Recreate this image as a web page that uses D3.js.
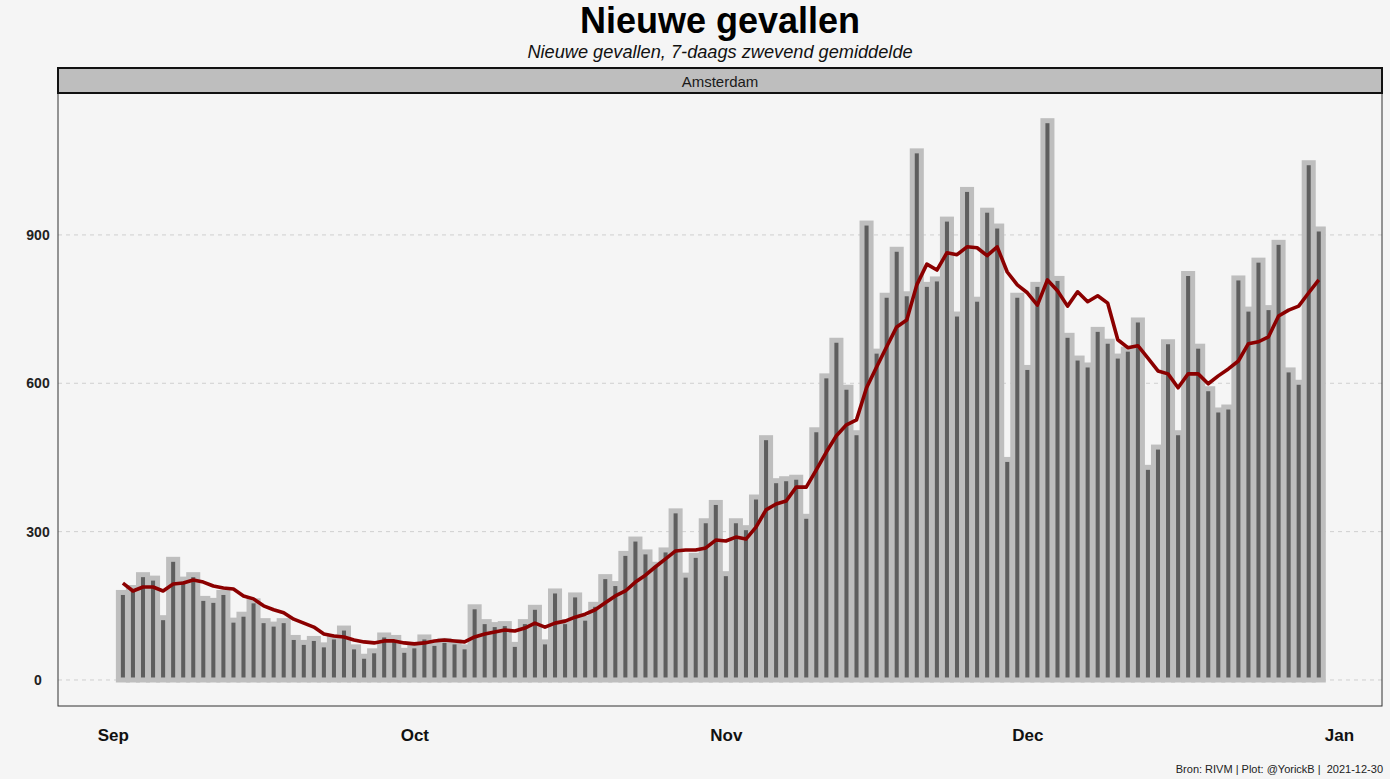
<!DOCTYPE html>
<html>
<head>
<meta charset="utf-8">
<script src="https://cdn.jsdelivr.net/npm/d3@7"></script>
<style>
  html, body { margin: 0; padding: 0; background: #f5f5f5; }
  svg { display: block; }
  text { font-family: "Liberation Sans", Arial, Helvetica, sans-serif; }
</style>
</head>
<body>
<svg id="chart" width="1390" height="779"></svg>
<script>
// ---- data ----
const startDate = "2021-09-02";
const cases = [
  177, 187, 213, 206, 126, 244, 204, 213, 165, 161, 177,
  121, 133, 160, 120, 113, 120, 86, 76, 84, 71, 87, 105,
  67, 48, 59, 91, 86, 60, 69, 87, 74, 80, 77, 67,
  148, 118, 112, 114, 72, 118, 147, 77, 180, 118, 172, 125,
  153, 209, 195, 256, 285, 259, 234, 263, 342, 212, 252, 322,
  359, 215, 322, 308, 370, 490, 403, 407, 410, 331, 506, 615,
  687, 592, 500, 924, 665, 778, 871, 781, 1070, 800, 811, 932, 740, 992, 770, 950, 918, 446, 778,
  632, 800, 1131, 812, 697, 651, 637, 709, 685, 655, 669, 728, 430, 471, 684, 500, 822, 675, 589, 546, 552, 813, 750, 849, 753, 885, 627, 602, 1046, 912
];
const avg7 = [
  196, 180, 188, 188, 180, 194, 196, 202, 198, 190, 186,
  184, 170, 164, 150, 142, 136, 123, 115, 107, 93, 89, 87,
  81, 77, 75, 79, 79, 75, 73, 75, 79, 81, 79, 77,
  87, 93, 97, 101, 99, 105, 115, 107, 115, 119, 127, 133,
  142, 156, 170, 180, 198, 212, 229, 245, 261, 263, 263, 267,
  283, 281, 289, 285, 309, 344, 356, 362, 390, 390, 425, 461,
  494, 516, 526, 591, 633, 674, 714, 728, 799, 841, 829, 864, 860, 876, 874, 858, 876, 825, 799,
  783, 758, 809, 787, 756, 785, 765, 777, 762, 688, 672, 676, 651, 625, 619, 591, 619, 619, 599, 615, 629, 645, 680, 684, 694, 736, 748, 756, 783, 809
];
const yTicks = [0, 300, 600, 900];
const xTickLabels = ["Sep", "Oct", "Nov", "Dec", "Jan"];
const xTickDates = ["2021-09-01", "2021-10-01", "2021-11-01", "2021-12-01", "2022-01-01"];
const title = "Nieuwe gevallen";
const subtitle = "Nieuwe gevallen, 7-daags zwevend gemiddelde";
const stripLabel = "Amsterdam";
const caption = "Bron: RIVM | Plot: @YorickB |  2021-12-30";

// ---- layout ----
const W = 1390, H = 779;
const panel = { left: 58, right: 1382, top: 93, bottom: 706 };
const strip = { top: 68, bottom: 93 };

const parse = d3.utcParse("%Y-%m-%d");
const d0 = parse(startDate);
const data = cases.map((v, i) => ({ date: d3.utcDay.offset(d0, i), value: v, avg: avg7[i] }));

const sep1 = parse("2021-09-01");
const x = d3.scaleUtc()
  .domain([d3.utcHour.offset(sep1, -5.42 * 24), d3.utcHour.offset(sep1, 126.3 * 24)])
  .range([panel.left, panel.right]);
const y = d3.scaleLinear()
  .domain([-52.6, 1187])
  .range([panel.bottom, panel.top]);

const svg = d3.select("#chart");
svg.append("rect").attr("width", W).attr("height", H).attr("fill", "#f5f5f5");

// panel background
svg.append("rect")
  .attr("x", panel.left).attr("y", panel.top)
  .attr("width", panel.right - panel.left).attr("height", panel.bottom - panel.top)
  .attr("fill", "#f5f5f5");

// gridlines
svg.append("g").selectAll("line").data(yTicks).join("line")
  .attr("x1", panel.left).attr("x2", panel.right)
  .attr("y1", d => y(d)).attr("y2", d => y(d))
  .attr("stroke", "#cfcfcf").attr("stroke-width", 1)
  .attr("stroke-dasharray", "4,4");

// bars
const dayPx = x(d3.utcDay.offset(sep1, 1)) - x(sep1);
const barW = dayPx * 0.9;
svg.append("g").selectAll("rect").data(data).join("rect")
  .attr("x", d => x(d.date) - barW / 2)
  .attr("y", d => y(d.value))
  .attr("width", barW)
  .attr("height", d => y(0) - y(d.value))
  .attr("fill", "#5e5e5e")
  .attr("stroke", "#bebebe")
  .attr("stroke-width", 5);

// 7-day average line
const line = d3.line().x(d => x(d.date)).y(d => y(d.avg));
svg.append("path").datum(data)
  .attr("d", line)
  .attr("fill", "none")
  .attr("stroke", "#8b0000")
  .attr("stroke-width", 3.6)
  .attr("stroke-linejoin", "round");

// panel border
svg.append("rect")
  .attr("x", panel.left).attr("y", panel.top)
  .attr("width", panel.right - panel.left).attr("height", panel.bottom - panel.top)
  .attr("fill", "none").attr("stroke", "#333").attr("stroke-width", 1);

// strip
svg.append("rect")
  .attr("x", panel.left).attr("y", strip.top)
  .attr("width", panel.right - panel.left).attr("height", strip.bottom - strip.top)
  .attr("fill", "#bebebe").attr("stroke", "#111").attr("stroke-width", 2);
svg.append("text")
  .attr("x", (panel.left + panel.right) / 2).attr("y", 87)
  .attr("text-anchor", "middle").attr("font-size", 15).attr("fill", "#1a1a1a")
  .text(stripLabel);

// y axis labels (centered, as in the reference)
const yAxis = d3.axisLeft(y).tickValues(yTicks).tickSize(0).tickPadding(0).tickFormat(d3.format("d"));
const gy = svg.append("g").attr("transform", `translate(38,0)`).call(yAxis);
gy.select(".domain").remove();
gy.selectAll("text").attr("font-size", 14).attr("font-weight", "bold").attr("fill", "#222")
  .attr("text-anchor", "middle")
  .attr("font-family", "Liberation Sans, Arial, sans-serif");

// x axis labels
const xAxis = d3.axisBottom(x).tickValues(xTickDates.map(parse)).tickSize(0).tickPadding(0)
  .tickFormat((d, i) => xTickLabels[i]);
const gx = svg.append("g").attr("transform", `translate(0,${panel.bottom + 23})`).call(xAxis);
gx.select(".domain").remove();
gx.selectAll("text").attr("font-size", 17).attr("font-weight", "bold").attr("fill", "#111")
  .attr("font-family", "Liberation Sans, Arial, sans-serif");

// titles
svg.append("text").attr("x", 720).attr("y", 33).attr("text-anchor", "middle")
  .attr("font-size", 36).attr("font-weight", "bold").attr("fill", "#000").text(title);
svg.append("text").attr("x", 720).attr("y", 58).attr("text-anchor", "middle")
  .attr("font-size", 18.2).attr("font-style", "italic").attr("fill", "#111").text(subtitle);

// caption
svg.append("text").attr("x", 1383).attr("y", 773).attr("text-anchor", "end")
  .attr("font-size", 11).attr("fill", "#222")
  .style("white-space", "pre")
  .text(caption);
</script>
</body>
</html>
